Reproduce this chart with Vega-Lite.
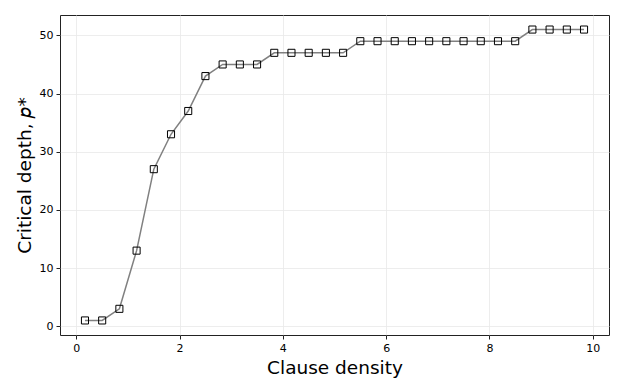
{
  "$schema": "https://vega.github.io/schema/vega-lite/v6.json",
  "width": 549,
  "height": 320,
  "autosize": {"type": "none"},
  "padding": {"left": 60, "top": 15, "right": 14, "bottom": 54},
  "background": "white",
  "config": {
    "view": {"stroke": "#222222", "strokeWidth": 1},
    "axis": {
      "labelFont": "DejaVu Sans",
      "titleFont": "DejaVu Sans",
      "labelFontSize": 11,
      "labelColor": "#000000",
      "titleFontSize": 18.5,
      "titleFontWeight": "normal",
      "titleColor": "#000000",
      "gridColor": "#e8e8e8",
      "gridWidth": 0.8,
      "domain": false,
      "tickColor": "#222222",
      "tickSize": 4,
      "labelPadding": 3
    }
  },
  "data": {
    "values": [
      {"density": 0.1667, "depth": 1},
      {"density": 0.5, "depth": 1},
      {"density": 0.8333, "depth": 3},
      {"density": 1.1667, "depth": 13},
      {"density": 1.5, "depth": 27},
      {"density": 1.8333, "depth": 33},
      {"density": 2.1667, "depth": 37},
      {"density": 2.5, "depth": 43},
      {"density": 2.8333, "depth": 45},
      {"density": 3.1667, "depth": 45},
      {"density": 3.5, "depth": 45},
      {"density": 3.8333, "depth": 47},
      {"density": 4.1667, "depth": 47},
      {"density": 4.5, "depth": 47},
      {"density": 4.8333, "depth": 47},
      {"density": 5.1667, "depth": 47},
      {"density": 5.5, "depth": 49},
      {"density": 5.8333, "depth": 49},
      {"density": 6.1667, "depth": 49},
      {"density": 6.5, "depth": 49},
      {"density": 6.8333, "depth": 49},
      {"density": 7.1667, "depth": 49},
      {"density": 7.5, "depth": 49},
      {"density": 7.8333, "depth": 49},
      {"density": 8.1667, "depth": 49},
      {"density": 8.5, "depth": 49},
      {"density": 8.8333, "depth": 51},
      {"density": 9.1667, "depth": 51},
      {"density": 9.5, "depth": 51},
      {"density": 9.8333, "depth": 51}
    ]
  },
  "encoding": {
    "x": {
      "field": "density",
      "type": "quantitative",
      "scale": {"domain": [-0.317, 10.317], "nice": false, "zero": false},
      "axis": {"values": [0, 2, 4, 6, 8, 10], "title": "Clause density", "titlePadding": 5}
    },
    "y": {
      "field": "depth",
      "type": "quantitative",
      "scale": {"domain": [-1.5, 53.5], "nice": false, "zero": false},
      "axis": {"values": [0, 10, 20, 30, 40, 50], "title": "Critical depth, 𝑝*", "titlePadding": 5}
    }
  },
  "layer": [
    {
      "mark": {"type": "line", "color": "#808080", "strokeWidth": 1.5}
    },
    {
      "mark": {"type": "point", "shape": "square", "size": 50, "filled": false, "stroke": "#000000", "strokeWidth": 1, "opacity": 1}
    }
  ]
}
